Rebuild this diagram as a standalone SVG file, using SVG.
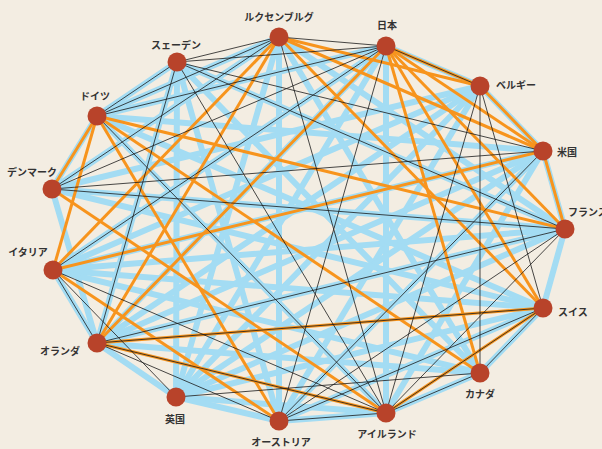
<svg xmlns="http://www.w3.org/2000/svg" width="602" height="449" viewBox="0 0 602 449">
<style>
.bg{fill:#F3EDE2}
.b{stroke:#A3DCF3;stroke-width:6;fill:none;stroke-linecap:round}
.o{stroke:#F7941D;stroke-width:3;fill:none}
.k{stroke:#1A1A1A;stroke-width:0.8;fill:none}
.n{fill:#B8432A}
.t{font-family:"Noto Sans CJK JP","Noto Sans",sans-serif;font-size:10px;font-weight:bold;fill:#333}
</style>
<rect class="bg" width="602" height="449"/>
<g id="connectors">
<g id="blue">
<line class="b" x1="177" y1="62" x2="97" y2="116"/>
<line class="b" x1="177" y1="62" x2="176" y2="397"/>
<line class="b" x1="177" y1="62" x2="97" y2="343"/>
<line class="b" x1="177" y1="62" x2="279" y2="421"/>
<line class="b" x1="177" y1="62" x2="565" y2="229"/>
<line class="b" x1="177" y1="62" x2="480" y2="373"/>
<line class="b" x1="279" y1="37" x2="97" y2="116"/>
<line class="b" x1="279" y1="37" x2="52" y2="189"/>
<line class="b" x1="279" y1="37" x2="176" y2="397"/>
<line class="b" x1="279" y1="37" x2="279" y2="421"/>
<line class="b" x1="279" y1="37" x2="480" y2="373"/>
<line class="b" x1="279" y1="37" x2="565" y2="229"/>
<line class="b" x1="386" y1="46" x2="480" y2="86"/>
<line class="b" x1="386" y1="46" x2="386" y2="413"/>
<line class="b" x1="386" y1="46" x2="176" y2="397"/>
<line class="b" x1="386" y1="46" x2="97" y2="343"/>
<line class="b" x1="386" y1="46" x2="53" y2="270"/>
<line class="b" x1="386" y1="46" x2="97" y2="116"/>
<line class="b" x1="480" y1="86" x2="543" y2="151"/>
<line class="b" x1="480" y1="86" x2="176" y2="397"/>
<line class="b" x1="480" y1="86" x2="279" y2="421"/>
<line class="b" x1="480" y1="86" x2="97" y2="343"/>
<line class="b" x1="480" y1="86" x2="53" y2="270"/>
<line class="b" x1="480" y1="86" x2="52" y2="189"/>
<line class="b" x1="543" y1="151" x2="565" y2="229"/>
<line class="b" x1="543" y1="151" x2="97" y2="116"/>
<line class="b" x1="543" y1="151" x2="53" y2="270"/>
<line class="b" x1="543" y1="151" x2="97" y2="343"/>
<line class="b" x1="543" y1="151" x2="176" y2="397"/>
<line class="b" x1="543" y1="151" x2="279" y2="421"/>
<line class="b" x1="543" y1="151" x2="386" y2="413"/>
<line class="b" x1="565" y1="229" x2="543" y2="308"/>
<line class="b" x1="565" y1="229" x2="53" y2="270"/>
<line class="b" x1="565" y1="229" x2="52" y2="189"/>
<line class="b" x1="565" y1="229" x2="97" y2="343"/>
<line class="b" x1="565" y1="229" x2="176" y2="397"/>
<line class="b" x1="543" y1="308" x2="480" y2="373"/>
<line class="b" x1="543" y1="308" x2="53" y2="270"/>
<line class="b" x1="543" y1="308" x2="52" y2="189"/>
<line class="b" x1="543" y1="308" x2="97" y2="116"/>
<line class="b" x1="543" y1="308" x2="176" y2="397"/>
<line class="b" x1="543" y1="308" x2="279" y2="421"/>
<line class="b" x1="480" y1="373" x2="386" y2="413"/>
<line class="b" x1="480" y1="373" x2="53" y2="270"/>
<line class="b" x1="480" y1="373" x2="97" y2="343"/>
<line class="b" x1="386" y1="413" x2="279" y2="421"/>
<line class="b" x1="386" y1="413" x2="176" y2="397"/>
<line class="b" x1="386" y1="413" x2="97" y2="116"/>
<line class="b" x1="279" y1="421" x2="176" y2="397"/>
<line class="b" x1="176" y1="397" x2="97" y2="343"/>
<line class="b" x1="97" y1="343" x2="53" y2="270"/>
<line class="b" x1="97" y1="343" x2="52" y2="189"/>
<line class="b" x1="97" y1="116" x2="52" y2="189"/>
</g>
<g id="orange">
<line class="o" x1="97" y1="116" x2="52" y2="189"/>
<line class="o" x1="97" y1="116" x2="53" y2="270"/>
<line class="o" x1="97" y1="116" x2="565" y2="229"/>
<line class="o" x1="97" y1="116" x2="279" y2="421"/>
<line class="o" x1="97" y1="116" x2="480" y2="373"/>
<line class="o" x1="53" y1="270" x2="279" y2="37"/>
<line class="o" x1="53" y1="270" x2="543" y2="151"/>
<line class="o" x1="53" y1="270" x2="279" y2="421"/>
<line class="o" x1="279" y1="37" x2="480" y2="86"/>
<line class="o" x1="279" y1="37" x2="543" y2="308"/>
<line class="o" x1="279" y1="37" x2="543" y2="151"/>
<line class="o" x1="386" y1="46" x2="480" y2="86"/>
<line class="o" x1="386" y1="46" x2="543" y2="151"/>
<line class="o" x1="386" y1="46" x2="565" y2="229"/>
<line class="o" x1="386" y1="46" x2="480" y2="373"/>
<line class="o" x1="386" y1="46" x2="543" y2="308"/>
<line class="o" x1="386" y1="46" x2="97" y2="343"/>
<line class="o" x1="480" y1="86" x2="543" y2="151"/>
<line class="o" x1="543" y1="151" x2="565" y2="229"/>
<line class="o" x1="543" y1="308" x2="386" y2="413"/>
<line class="o" x1="97" y1="343" x2="543" y2="308"/>
<line class="o" x1="97" y1="343" x2="279" y2="37"/>
<line class="o" x1="97" y1="343" x2="386" y2="413"/>
<line class="o" x1="52" y1="189" x2="386" y2="413"/>
</g>
<g id="black">
<line class="k" x1="177" y1="62" x2="97" y2="116"/>
<line class="k" x1="177" y1="62" x2="279" y2="37"/>
<line class="k" x1="177" y1="62" x2="386" y2="46"/>
<line class="k" x1="177" y1="62" x2="543" y2="151"/>
<line class="k" x1="177" y1="62" x2="565" y2="229"/>
<line class="k" x1="177" y1="62" x2="386" y2="413"/>
<line class="k" x1="177" y1="62" x2="97" y2="343"/>
<line class="k" x1="279" y1="37" x2="97" y2="116"/>
<line class="k" x1="279" y1="37" x2="386" y2="46"/>
<line class="k" x1="279" y1="37" x2="386" y2="413"/>
<line class="k" x1="279" y1="37" x2="52" y2="189"/>
<line class="k" x1="97" y1="116" x2="386" y2="46"/>
<line class="k" x1="97" y1="116" x2="386" y2="413"/>
<line class="k" x1="52" y1="189" x2="386" y2="46"/>
<line class="k" x1="52" y1="189" x2="543" y2="151"/>
<line class="k" x1="52" y1="189" x2="565" y2="229"/>
<line class="k" x1="53" y1="270" x2="386" y2="46"/>
<line class="k" x1="53" y1="270" x2="97" y2="343"/>
<line class="k" x1="53" y1="270" x2="176" y2="397"/>
<line class="k" x1="53" y1="270" x2="386" y2="413"/>
<line class="k" x1="97" y1="343" x2="543" y2="308"/>
<line class="k" x1="97" y1="343" x2="386" y2="413"/>
<line class="k" x1="97" y1="343" x2="279" y2="421"/>
<line class="k" x1="176" y1="397" x2="480" y2="373"/>
<line class="k" x1="279" y1="421" x2="386" y2="413"/>
<line class="k" x1="279" y1="421" x2="543" y2="151"/>
<line class="k" x1="279" y1="421" x2="386" y2="46"/>
<line class="k" x1="279" y1="421" x2="565" y2="229"/>
<line class="k" x1="279" y1="421" x2="543" y2="308"/>
<line class="k" x1="386" y1="413" x2="480" y2="86"/>
<line class="k" x1="386" y1="413" x2="543" y2="308"/>
<line class="k" x1="386" y1="413" x2="565" y2="229"/>
<line class="k" x1="386" y1="413" x2="480" y2="373"/>
<line class="k" x1="480" y1="86" x2="480" y2="373"/>
<line class="k" x1="480" y1="86" x2="543" y2="308"/>
<line class="k" x1="480" y1="86" x2="386" y2="46"/>
<line class="k" x1="480" y1="373" x2="543" y2="308"/>
<line class="k" x1="565" y1="229" x2="97" y2="343"/>
</g>
</g>
<g id="n-lux"><circle class="n" cx="279" cy="37" r="9.5"/><text class="t" x="279" y="21" text-anchor="middle">ルクセンブルグ</text></g>
<g id="n-jpn"><circle class="n" cx="386" cy="46" r="9.5"/><text class="t" x="387" y="29" text-anchor="middle">日本</text></g>
<g id="n-bel"><circle class="n" cx="480" cy="86" r="9.5"/><text class="t" x="496" y="89">ベルギー</text></g>
<g id="n-us"><circle class="n" cx="543" cy="151" r="9.5"/><text class="t" x="557" y="156">米国</text></g>
<g id="n-fra"><circle class="n" cx="565" cy="229" r="9.5"/><text class="t" x="568" y="216">フランス</text></g>
<g id="n-swi"><circle class="n" cx="543" cy="308" r="9.5"/><text class="t" x="558" y="316">スイス</text></g>
<g id="n-can"><circle class="n" cx="480" cy="373" r="9.5"/><text class="t" x="480" y="398" text-anchor="middle">カナダ</text></g>
<g id="n-ire"><circle class="n" cx="386" cy="413" r="9.5"/><text class="t" x="387" y="438" text-anchor="middle">アイルランド</text></g>
<g id="n-aut"><circle class="n" cx="279" cy="421" r="9.5"/><text class="t" x="281" y="446" text-anchor="middle">オーストリア</text></g>
<g id="n-uk"><circle class="n" cx="176" cy="397" r="9.5"/><text class="t" x="175" y="423" text-anchor="middle">英国</text></g>
<g id="n-ned"><circle class="n" cx="97" cy="343" r="9.5"/><text class="t" x="80" y="355" text-anchor="end">オランダ</text></g>
<g id="n-ita"><circle class="n" cx="53" cy="270" r="9.5"/><text class="t" x="28" y="256" text-anchor="middle">イタリア</text></g>
<g id="n-den"><circle class="n" cx="52" cy="189" r="9.5"/><text class="t" x="32" y="176" text-anchor="middle">デンマーク</text></g>
<g id="n-ger"><circle class="n" cx="97" cy="116" r="9.5"/><text class="t" x="95" y="100" text-anchor="middle">ドイツ</text></g>
<g id="n-swe"><circle class="n" cx="177" cy="62" r="9.5"/><text class="t" x="176" y="49" text-anchor="middle">スェーデン</text></g>
</svg>
